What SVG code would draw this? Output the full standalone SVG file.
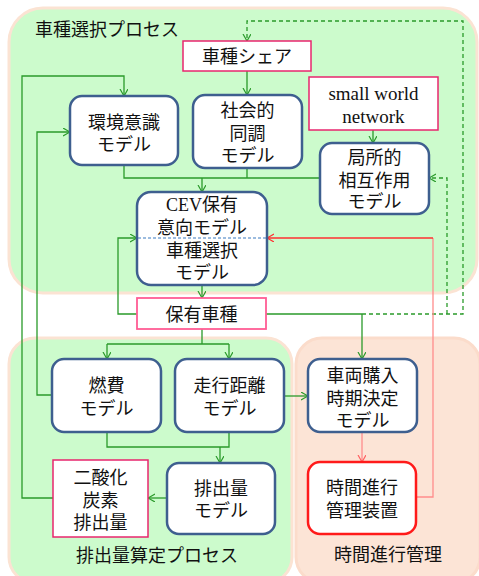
<svg xmlns="http://www.w3.org/2000/svg" width="479" height="576" viewBox="0 0 479 576">
<style>
.rg{fill:#ccfbcc;stroke:#fbe3d3;stroke-width:3}
.ro{fill:#fce4d6;stroke:#fbdccb;stroke-width:3}
.m{fill:#fff;stroke:#3e5f8f;stroke-width:2.5}
.mr{fill:#fff;stroke:#ff1a1a;stroke-width:2.5}
.in{fill:#fff;stroke:#e8266e;stroke-width:1.5}
.in2{fill:#fff;stroke:#ff5c94;stroke-width:1.8}
.t{font-family:"Noto Sans CJK JP","Noto Sans",sans-serif;font-size:18px;fill:#111;text-anchor:middle}
.lab{font-family:"Noto Sans CJK JP","Noto Sans",sans-serif;font-size:18px;fill:#111}
.s{font-family:"Liberation Serif","Noto Sans CJK JP",serif}
.ln{fill:none;stroke:#2a9a2a;stroke-width:1.3}
.d{stroke-dasharray:4 3}
.ra{fill:none;stroke:#ff3030;stroke-width:1.3}
.rl{fill:none;stroke:#ff8c8c;stroke-width:1.3}
</style>
<defs>
<marker id="ag" markerWidth="8" markerHeight="10" refX="7" refY="4" orient="auto" markerUnits="userSpaceOnUse"><path d="M0,0 L7,4 L0,8" fill="none" stroke="#2a9a2a" stroke-width="1.2"/></marker>
<marker id="ar" markerWidth="8" markerHeight="10" refX="7" refY="4" orient="auto" markerUnits="userSpaceOnUse"><path d="M0,0 L7,4 L0,8" fill="none" stroke="#ff3030" stroke-width="1.2"/></marker>
<marker id="arl" markerWidth="8" markerHeight="10" refX="7" refY="4" orient="auto" markerUnits="userSpaceOnUse"><path d="M0,0 L7,4 L0,8" fill="none" stroke="#ff6060" stroke-width="1.2"/></marker>
</defs>

<g id="regions">
<rect class="rg" x="9" y="8" width="468" height="285" rx="34"/>
<rect class="rg" x="9" y="338" width="283" height="245" rx="26"/>
<rect class="ro" x="296" y="338" width="184" height="245" rx="26"/>
<text class="lab" x="35" y="35.5">車種選択プロセス</text>
<text class="lab" x="157" y="562" text-anchor="middle">排出量算定プロセス</text>
<text class="lab" x="388" y="561" text-anchor="middle">時間進行管理</text>
</g>

<g id="connectors">
<path class="ln" d="M247,71 V95" marker-end="url(#ag)"/>
<path class="ln" d="M124,165 V178 H320 M247,168 V178"/>
<path class="ln" d="M202,178 V192" marker-end="url(#ag)"/>
<path class="ln" d="M373,130 V143" marker-end="url(#ag)"/>
<path class="ln" d="M202,285 V298" marker-end="url(#ag)"/>
<path class="ln" d="M137,314 H118 V238 H137" marker-end="url(#ag)"/>
<path class="ln" d="M266,314 H362"/>
<path class="ln" d="M362,314 V359" marker-end="url(#ag)"/>
<path class="ln d" d="M362,314 H463 V21 H247 V41" marker-end="url(#ag)"/>
<path class="ln d" d="M447,314 V178 H429" marker-end="url(#ag)"/>
<path class="ln" d="M202,329 V344 M107,344 H229"/>
<path class="ln" d="M107,344 V359" marker-end="url(#ag)"/>
<path class="ln" d="M229,344 V359" marker-end="url(#ag)"/>
<path class="ln" d="M52,395 H37 V132 H70" marker-end="url(#ag)"/>
<path class="ln" d="M53,498 H22 V76 H124 V96" marker-end="url(#ag)"/>
<path class="ln" d="M284,396 H308" marker-end="url(#ag)"/>
<path class="ln" d="M107,432 V447 H229 V432"/>
<path class="ln" d="M220,447 V463" marker-end="url(#ag)"/>
<path class="ln" d="M167,498 H148" marker-end="url(#ag)"/>
<path class="rl" d="M362,432 V462" marker-end="url(#arl)"/>
<path class="rl" d="M417,497 H433 V238"/>
<path class="ra" d="M433,238 H267" marker-end="url(#ar)"/>
</g>

<g id="share">
<rect class="in" x="183" y="41" width="128" height="30"/>
<text class="t" x="247" y="63">車種シェア</text>
</g>
<g id="env">
<rect class="m" x="70" y="96" width="108" height="69" rx="12"/>
<text class="t" x="124" y="129">環境意識</text>
<text class="t" x="124" y="151">モデル</text>
</g>
<g id="social">
<rect class="m" x="193" y="95" width="109" height="73" rx="12"/>
<text class="t" x="247.5" y="117">社会的</text>
<text class="t" x="247.5" y="139.5">同調</text>
<text class="t" x="247.5" y="162">モデル</text>
</g>
<g id="sw">
<rect class="in" x="309" y="77" width="129" height="53"/>
<text class="t s" x="373.5" y="99.5" style="font-size:19px">small world</text>
<text class="t s" x="373.5" y="122.5" style="font-size:19px">network</text>
</g>
<g id="local">
<rect class="m" x="320" y="143" width="109" height="71" rx="12"/>
<text class="t" x="374.5" y="164">局所的</text>
<text class="t" x="374.5" y="186.5">相互作用</text>
<text class="t" x="374.5" y="208">モデル</text>
</g>
<g id="cev">
<rect class="m" x="137" y="192" width="130" height="93" rx="14"/>
<line x1="138" y1="238" x2="266" y2="238" stroke="#3a7ac0" stroke-width="1.2" stroke-dasharray="3 2"/>
<text class="t" x="202" y="211"><tspan class="s">CEV</tspan>保有</text>
<text class="t" x="202" y="233.5">意向モデル</text>
<text class="t" x="202" y="257">車種選択</text>
<text class="t" x="202" y="279">モデル</text>
</g>
<g id="owned">
<rect class="in2" x="137" y="298" width="129" height="31"/>
<text class="t" x="201.5" y="321">保有車種</text>
</g>
<g id="fuel">
<rect class="m" x="52" y="359" width="109" height="73" rx="12"/>
<text class="t" x="106.5" y="392">燃費</text>
<text class="t" x="106.5" y="414.5">モデル</text>
</g>
<g id="dist">
<rect class="m" x="175" y="359" width="109" height="73" rx="12"/>
<text class="t" x="229.5" y="392">走行距離</text>
<text class="t" x="229.5" y="414.5">モデル</text>
</g>
<g id="purchase">
<rect class="m" x="308" y="359" width="109" height="73" rx="12"/>
<text class="t" x="362.5" y="382">車両購入</text>
<text class="t" x="362.5" y="405">時期決定</text>
<text class="t" x="362.5" y="427">モデル</text>
</g>
<g id="emis">
<rect class="m" x="167" y="463" width="108" height="71" rx="12"/>
<text class="t" x="221" y="494.5">排出量</text>
<text class="t" x="221" y="517">モデル</text>
</g>
<g id="co2">
<rect class="in" x="53" y="460" width="95" height="77"/>
<text class="t" x="100.5" y="483.5">二酸化</text>
<text class="t" x="100.5" y="506.5">炭素</text>
<text class="t" x="100.5" y="529">排出量</text>
</g>
<g id="timer">
<rect class="mr" x="308" y="462" width="108" height="72" rx="12"/>
<text class="t" x="362" y="494">時間進行</text>
<text class="t" x="362" y="516.5">管理装置</text>
</g>
</svg>
